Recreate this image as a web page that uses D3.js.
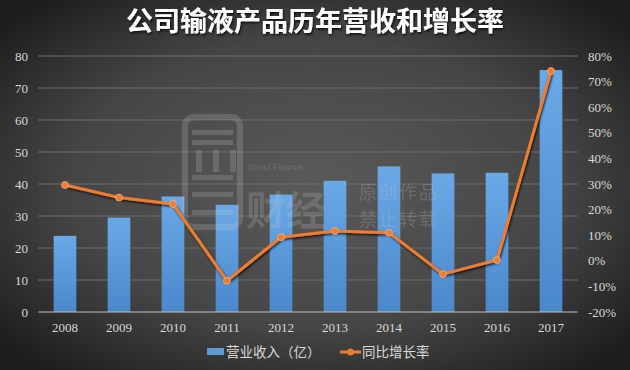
<!DOCTYPE html>
<html><head><meta charset="utf-8">
<script src="https://cdn.jsdelivr.net/npm/d3@7/dist/d3.min.js"></script>
<style>html,body{margin:0;padding:0;background:#333;}svg{display:block;}</style>
</head><body>
<svg id="c" width="630" height="370"></svg>
<script>
const years = ["2008","2009","2010","2011","2012","2013","2014","2015","2016","2017"];
const revenue = [23.8, 29.5, 36.1, 33.5, 36.7, 41.0, 45.5, 43.3, 43.5, 75.6];
const growth = [29.6, 24.7, 22.2, -7.8, 9.2, 11.6, 11.0, -5.2, 0.3, 74.1];
const leftTicks = [0,10,20,30,40,50,60,70,80];
const rightTicks = [-20,-10,0,10,20,30,40,50,60,70,80];
const title = "公司输液产品历年营收和增长率";
const legendLabels = ["营业收入（亿）","同比增长率"];

const W=630,H=370;
const m={left:38,right:52,top:56,bottom:58};
const svg=d3.select("#c");
const defs=svg.append("defs");
const bg=defs.append("radialGradient").attr("id","bg").attr("cx","50%").attr("cy","50%").attr("r","65%");
bg.append("stop").attr("offset","0%").attr("stop-color","#5a5a5a");
bg.append("stop").attr("offset","60%").attr("stop-color","#454545");
bg.append("stop").attr("offset","100%").attr("stop-color","#1e1e1e");
const bar=defs.append("linearGradient").attr("id","bar").attr("x1",0).attr("y1",0).attr("x2",0).attr("y2",1);
bar.append("stop").attr("offset","0%").attr("stop-color","#6aa8e6");
bar.append("stop").attr("offset","100%").attr("stop-color","#4a88cc");
const sh=defs.append("filter").attr("id","sh").attr("x","-10%").attr("y","-30%").attr("width","130%").attr("height","160%");
sh.append("feDropShadow").attr("dx",1).attr("dy",1.5).attr("stdDeviation",1).attr("flood-color","#000").attr("flood-opacity",0.8);

svg.append("rect").attr("width",W).attr("height",H).attr("fill","url(#bg)");

const x=d3.scaleBand().domain(years).range([m.left,W-m.right]).paddingInner(0.58).paddingOuter(0.29);
const y=d3.scaleLinear().domain([0,80]).range([H-m.bottom,m.top]);
const y2=d3.scaleLinear().domain([-20,80]).range([H-m.bottom,m.top]);

// grid
svg.append("g").selectAll("line").data(leftTicks.slice(1)).join("line")
 .attr("x1",m.left).attr("x2",W-m.right).attr("y1",d=>y(d)).attr("y2",d=>y(d))
 .attr("stroke","#6e6e6e").attr("stroke-width",1);

// bars
svg.append("g").selectAll("rect").data(revenue).join("rect")
 .attr("x",(d,i)=>x(years[i])).attr("width",x.bandwidth())
 .attr("y",d=>y(d)).attr("height",d=>y(0)-y(d)).attr("fill","url(#bar)");

// watermark
const wm=svg.append("g").attr("opacity",0.2).attr("fill","#d0d0d0");
wm.append("rect").attr("x",185).attr("y",117).attr("width",55).attr("height",110).attr("rx",9).attr("fill","none").attr("stroke","#d0d0d0").attr("stroke-width",6);
[[192,130,41,5],[192,140,41,5],[196,150,6,22],[213,150,6,22],[230,150,6,22],[192,175,41,5],[192,192,41,5],[192,210,41,5]].forEach(r=>
  wm.append("rect").attr("x",r[0]).attr("y",r[1]).attr("width",r[2]).attr("height",r[3]));
wm.append("text").attr("x",248).attr("y",170).attr("font-family","Liberation Sans").attr("font-size",8.5).text("Bread Finance");
wm.append("text").attr("x",246).attr("y",225).attr("font-family","Noto Sans CJK SC").attr("font-weight","bold").attr("font-size",40).text("财经");
wm.append("text").attr("x",359).attr("y",199).attr("font-family","Noto Sans CJK SC").attr("font-size",18).attr("letter-spacing",2).text("原创作品");
wm.append("text").attr("x",359).attr("y",226).attr("font-family","Noto Sans CJK SC").attr("font-size",18).attr("letter-spacing",2).text("禁止转载");

// baseline
svg.append("line").attr("x1",m.left).attr("x2",W-m.right).attr("y1",y(0)).attr("y2",y(0)).attr("stroke","#bfbfbf").attr("stroke-width",1);

// axes
const tf="Liberation Serif";
const la=svg.append("g").attr("transform",`translate(${m.left-10},0)`).call(d3.axisLeft(y).tickValues(leftTicks).tickSize(0).tickPadding(0));
const ra=svg.append("g").attr("transform",`translate(${W-m.right+10},0)`).call(d3.axisRight(y2).tickValues(rightTicks).tickSize(0).tickPadding(0).tickFormat(d=>d+"%"));
const xa=svg.append("g").attr("transform",`translate(0,${y(0)+8})`).call(d3.axisBottom(x).tickSize(0).tickPadding(0));
[la,ra,xa].forEach(a=>{a.select(".domain").remove();a.selectAll("text").attr("fill","#d9d9d9").attr("font-family",tf).attr("font-size",13);});
xa.selectAll("text").attr("dy","0.9em");

// line
const cx=(i)=>x(years[i])+x.bandwidth()/2;
const line=d3.line().x((d,i)=>cx(i)).y(d=>y2(d));
svg.append("path").datum(growth).attr("d",line).attr("fill","none").attr("stroke","#ed7d31").attr("stroke-width",3).attr("stroke-linejoin","round").attr("filter","url(#sh)");
svg.append("g").selectAll("circle").data(growth).join("circle")
 .attr("cx",(d,i)=>cx(i)).attr("cy",d=>y2(d)).attr("r",3.5).attr("fill","#ed7d31").attr("stroke","#f4b183").attr("stroke-width",0.8);

// title
svg.append("text").attr("x",W/2).attr("y",31).attr("text-anchor","middle")
 .attr("font-family","Noto Sans CJK SC").attr("font-weight","bold").attr("font-size",27)
 .attr("fill","#ffffff").attr("filter","url(#sh)").text(title);

// legend
const lg=svg.append("g");
lg.append("rect").attr("x",207).attr("y",348).attr("width",17).attr("height",7).attr("fill","#5b9bd5");
lg.append("text").attr("x",226).attr("y",357).attr("font-family","Noto Sans CJK SC").attr("font-size",13.5).attr("fill","#d9d9d9").text(legendLabels[0]);
lg.append("line").attr("x1",340).attr("x2",361).attr("y1",352).attr("y2",352).attr("stroke","#ed7d31").attr("stroke-width",3);
lg.append("circle").attr("cx",350.5).attr("cy",352).attr("r",3.5).attr("fill","#ed7d31");
lg.append("text").attr("x",362).attr("y",357).attr("font-family","Noto Sans CJK SC").attr("font-size",13.5).attr("fill","#d9d9d9").text(legendLabels[1]);
</script>
</body></html>
